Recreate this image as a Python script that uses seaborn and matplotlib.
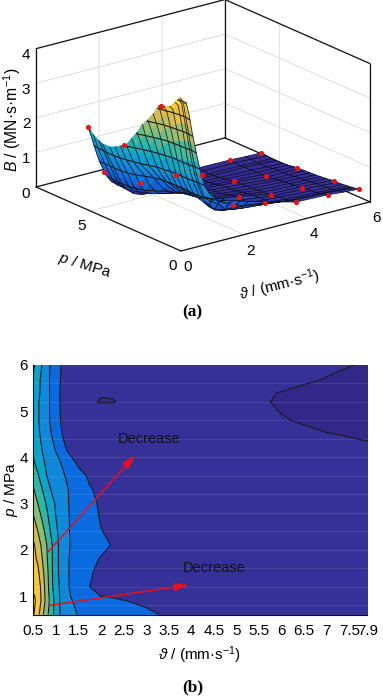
import numpy as np
import matplotlib
matplotlib.use("Agg")
import matplotlib.pyplot as plt
import seaborn as sns
from matplotlib.colors import Normalize
from mpl_toolkits.mplot3d import proj3d
from mpl_toolkits.mplot3d.art3d import Poly3DCollection

W, H = 383, 698

# velocity columns and pressure rows of the table
v_vals = [0.5, 0.6, 0.7, 0.8, 0.9, 1, 1.1, 1.25, 1.5, 1.75, 2, 2.25, 2.5, 3, 3.5, 4, 5, 5.5, 6, 7, 7.9]
p_vals = [0.6, 0.9, 1.0, 1.2, 1.5, 1.8, 2.1, 2.4, 2.7, 3, 3.3, 3.6, 3.9, 4.2, 4.5, 4.8, 5.2, 5.4, 5.7, 6]

# B, one row per pressure
B_vals = [
    [4.05, 3.67, 3.11, 2.64, 2.18, 1.79, 1.47, 1.23, .97, .91, .84, .77, .71, .57, .45, .33, .30, .26, .23, .15, .12],
    [4.1, 3.89, 3.33, 2.78, 2.25, 1.81, 1.45, 1.08, .91, .81, .7, .6, .51, .43, .37, .3, .26, .23, .2, .14, .1],
    [4.05, 3.87, 3.32, 2.76, 2.2, 1.78, 1.44, 1.06, .85, .72, .49, .44, .41, .37, .33, .29, .25, .22, .19, .14, .1],
    [3.9, 3.8, 3.28, 2.72, 2.12, 1.73, 1.42, 1.05, .76, .5, .42, .39, .37, .34, .3, .27, .23, .2, .18, .13, .1],
    [3.72, 3.62, 3.15, 2.65, 2.11, 1.67, 1.37, 1.04, .77, .52, .45, .42, .39, .34, .3, .26, .21, .18, .16, .11, .09],
    [3.65, 3.42, 3.0, 2.55, 2.09, 1.67, 1.37, 1.04, .81, .6, .47, .43, .4, .35, .3, .24, .2, .17, .15, .1, .08],
    [3.6, 3.25, 2.88, 2.5, 2.08, 1.67, 1.37, 1.04, .88, .74, .61, .48, .44, .38, .3, .21, .18, .16, .14, .09, .07],
    [3.3, 3.0, 2.67, 2.29, 1.91, 1.59, 1.35, 1.04, .84, .68, .51, .44, .4, .33, .27, .2, .16, .14, .12, .08, .06],
    [3.05, 2.75, 2.43, 2.1, 1.79, 1.5, 1.31, 1.04, .83, .63, .47, .41, .36, .29, .24, .18, .14, .12, .1, .07, .05],
    [2.85, 2.5, 2.22, 1.94, 1.67, 1.44, 1.27, 1.03, .8, .59, .45, .38, .33, .26, .21, .17, .12, .1, .09, .06, .05],
    [2.55, 2.28, 2.0, 1.72, 1.47, 1.35, 1.22, 1.03, .74, .53, .42, .35, .3, .24, .19, .16, .1, .09, .08, .05, .04],
    [2.3, 2.05, 1.78, 1.5, 1.37, 1.25, 1.13, .94, .63, .44, .37, .32, .28, .22, .18, .15, .07, .07, .07, .04, .03],
    [2.05, 1.83, 1.58, 1.41, 1.27, 1.14, 1.0, .7, .42, .34, .3, .27, .24, .2, .17, .15, .06, .06, .06, .03, .02],
    [1.95, 1.7, 1.47, 1.3, 1.13, .95, .73, .45, .33, .28, .24, .21, .19, .16, .13, .11, .05, .05, .05, .02, .01],
    [1.85, 1.6, 1.38, 1.19, 1.0, .77, .55, .36, .28, .24, .2, .17, .15, .13, .11, .09, .05, .04, .02, .003, -.01],
    [1.78, 1.55, 1.33, 1.13, .92, .71, .5, .33, .25, .2, .17, .14, .12, .1, .09, .07, .04, .02, .005, -.02, -.03],
    [1.78, 1.55, 1.33, 1.13, .91, .7, .48, .3, .1, .02, -.01, -.005, .01, .03, .03, .03, .03, .01, -.01, -.03, -.03],
    [1.83, 1.6, 1.38, 1.14, .91, .7, .48, .3, .12, .03, .01, .01, .02, .03, .03, .03, .03, .008, -.002, -.025, -.03],
    [1.92, 1.64, 1.38, 1.14, .9, .71, .5, .3, .16, .1, .08, .07, .07, .06, .06, .05, .05, .03, .02, -.002, -.02],
    [2.09, 1.8, 1.47, 1.18, .92, .72, .52, .32, .2, .14, .12, .1, .09, .08, .07, .07, .06, .04, .03, .01, -.005],
]

# measured points on the surface
dot_v = [0.5, 0.5, 0.5, 1, 1, 1, 1, 2, 3, 3, 4, 4, 4, 5, 5, 5, 5, 6, 6, 6, 6]
dot_p = [6, 4, 2, 6, 4, 2, 0.6, 0.6, 0.6, 2, 0.6, 2, 4, 0.6, 2, 4, 6, 0.6, 2, 4, 6]
dot_b = [2.09, 2.03, 3.6, .66, .8, 1.5, 1.83, .72, .54, .39, .33, .21, .15, .3, .18, .05, .06, .23, .14, .06, .03]

contour_levels = [0, 0.5, 1, 1.5, 2, 2.5, 3, 3.5, 4]
fill_levels = [-0.5] + contour_levels + [4.5]
band_colors = ['#33288a', '#363199', '#0a6be0', '#1088da', '#0aa3cb',
               '#2eb7a4', '#87bf77', '#d1bb59', '#fbc63a', '#f9e61a']

xticks_b = [0.5, 1, 1.5, 2, 2.5, 3, 3.5, 4, 4.5, 5, 5.5, 6, 6.5, 7, 7.5, 7.9]
xlabels_b = ['0.5', '1', '1.5', '2', '2.5', '3', '3.5', '4', '4.5', '5', '5.5', '6', '6.5', '7', '7.5', '7.9']
yticks_b = [1, 2, 3, 4, 5, 6]
mesh_rows = [0.8, 1.2, 1.6, 2, 2.4, 2.8, 3.2, 3.6, 4, 4.4, 4.8, 5.2, 5.6]

sns.set_theme(style="white")
plt.rcParams['font.family'] = ['Liberation Sans', 'DejaVu Sans']
plt.rcParams['mathtext.fontset'] = 'custom'
plt.rcParams['mathtext.rm'] = 'Liberation Sans'
plt.rcParams['mathtext.it'] = 'Liberation Sans:italic'
plt.rcParams['text.color'] = 'black'
plt.rcParams['xtick.color'] = 'black'
plt.rcParams['ytick.color'] = 'black'
FS = 11

V, P = np.meshgrid(v_vals, p_vals)
B = np.array(B_vals)
cmap = sns.blend_palette(band_colors, as_cmap=True)
norm = Normalize(-0.25, 4.25)

fig = plt.figure(figsize=(W / 100, H / 100), dpi=100)


def put_text(x, y, s, **kw):
    fig.text(x / W, 1 - y / H, s, ha='center', va='center', **kw)


# (a) surface
ax = fig.add_axes([0, 0.5, 1, W / H], projection='3d', proj_type='ortho', computed_zorder=False)
ax.view_init(elev=19.8, azim=-127.5)
xmax, ymax, zmax = 6, 8.0, 4
ax.set_xlim(0, xmax, view_margin=0)
ax.set_ylim(0, ymax, view_margin=0)
ax.set_zlim(0, zmax, view_margin=0)
ax.set_box_aspect((1, 1, 0.617))
ax.patch.set_alpha(0)

for axis in (ax.xaxis, ax.yaxis, ax.zaxis):
    axis.set_pane_color((1, 1, 1, 1))
    axis.pane.set_edgecolor('none')
    axis.line.set_linewidth(0)
    axis._axinfo['grid'].update(color='#d9d9d9', linewidth=0.6)
    axis._axinfo['tick'].update(inward_factor=0.0, outward_factor=0.0)
ax.grid(True)
ax.set_xticks([0, 2, 4, 6])
ax.set_yticks([0, 5])
ax.set_zticks([0, 1, 2, 3, 4])
ax.tick_params(axis='both', labelsize=FS, pad=-2)
ax.tick_params(axis='z', pad=-4)

# box outline
edges = [((0, xmax), (0, 0), (0, 0)), ((0, 0), (0, ymax), (0, 0)),
         ((xmax, xmax), (0, ymax), (0, 0)), ((0, xmax), (ymax, ymax), (0, 0)),
         ((0, 0), (ymax, ymax), (0, zmax)), ((xmax, xmax), (0, 0), (0, zmax)),
         ((xmax, xmax), (ymax, ymax), (0, zmax)),
         ((0, xmax), (ymax, ymax), (zmax, zmax)), ((xmax, xmax), (0, ymax), (zmax, zmax))]
for ex, ey, ez in edges:
    ax.plot(ex, ey, ez, color='#111111', lw=0.9, zorder=1)

n = v_vals.index(6) + 1
Vs, Ps, Bs = V[:, :n], P[:, :n], B[:, :n]

# flat part keeps dark cell outlines, the steep wall only gets its stripes further down
verts, faces, outlines = [], [], []
for i in range(Bs.shape[0] - 1):
    for j in range(Bs.shape[1] - 1):
        verts.append([(Vs[i, j], Ps[i, j], Bs[i, j]), (Vs[i, j + 1], Ps[i, j + 1], Bs[i, j + 1]),
                      (Vs[i + 1, j + 1], Ps[i + 1, j + 1], Bs[i + 1, j + 1]), (Vs[i + 1, j], Ps[i + 1, j], Bs[i + 1, j])])
        c = cmap(norm(Bs[i:i + 2, j:j + 2].mean()))
        faces.append(c)
        outlines.append((0.03, 0.03, 0.12, 1) if Vs[i, j] >= 1.5 else c)
mesh = Poly3DCollection(verts, facecolors=faces, edgecolors=outlines, linewidths=0.45, zorder=2)
ax.add_collection3d(mesh, autolim=False)

m = v_vals.index(1.5) + 1
for i in range(Bs.shape[0]):
    ax.plot(Vs[i, :m], Ps[i, :m], Bs[i, :m], color='#0a0a1e', lw=0.6, alpha=0.85, zorder=2.5)

ax.contour(Vs, Ps, Bs, levels=contour_levels[1:], colors='k', linewidths=0.8, zorder=3)
ax.scatter(dot_v, dot_p, dot_b, color='#ee1111', s=14, depthshade=False, zorder=4, linewidths=0)

# fit the box on the figure: left corner x=36, right corner x=370, front corner y=251 px
ax.apply_aspect()
M = ax.get_proj()
cx, cy, _ = proj3d.proj_transform(np.array([0, 0, xmax]), np.array([0, ymax, 0]), np.zeros(3), M)
u = ax.transAxes.inverted().transform(ax.transData.transform(np.c_[cx, cy]))
S = (370 - 36) / (u[2, 0] - u[1, 0])
ax.set_position([(36 - u[1, 0] * S) / W, ((H - 251) - u[0, 1] * S) / H, S / W, S / H])

put_text(12, 120, r'$B$ / (MN·s·m$^{-1}$)', fontsize=11.3, rotation=90)
put_text(85, 265, r'$p$ / MPa', fontsize=FS, rotation=-17)
put_text(280, 285, r'$\vartheta$ / (mm·s$^{-1}$)', fontsize=FS, rotation=14)
put_text(192, 312, '(a)', fontsize=12.5, fontweight='bold', family='Liberation Serif')

# (b) contour map
ax2 = fig.add_axes([33.3 / W, 1 - 614.5 / H, 334.2 / W, 249.5 / H])
ax2.contourf(V, P, B, levels=fill_levels, colors=band_colors)
ax2.hlines(mesh_rows, 0.5, 7.9, color='white', alpha=0.1, lw=0.7)
ax2.contour(V, P, B, levels=contour_levels, colors='k', linewidths=0.8)
ax2.set_xlim(0.5, 7.9)
ax2.set_ylim(0.6, 6)
ax2.set_xticks(xticks_b)
ax2.set_xticklabels(xlabels_b)
ax2.set_yticks(yticks_b)
ax2.tick_params(direction='in', length=3, width=0.6, labelsize=FS, pad=7, bottom=True, left=True)
ax2.tick_params(axis='y', pad=4)
sns.despine(ax=ax2)
for s in ('left', 'bottom'):
    ax2.spines[s].set_linewidth(0.8)
    ax2.spines[s].set_color('#111111')

for start, end in [((0.81, 1.94), (2.76, 4.05)), ((0.83, 0.79), (3.94, 1.24))]:
    ax2.annotate('', xy=end, xytext=start,
                 arrowprops=dict(arrowstyle='-|>,head_length=0.7,head_width=0.2', color='#e8101c', lw=1.1,
                                 shrinkA=0, shrinkB=0))
ax2.text(2.37, 4.39, 'Decrease', fontsize=10.5, va='center', color='#111111')
ax2.text(3.8, 1.6, 'Decrease', fontsize=10.5, va='center', color='#111111')

put_text(200, 655, r'$\vartheta$ / (mm·s$^{-1}$)', fontsize=FS)
put_text(11, 490, r'$p$ / MPa', fontsize=FS, rotation=90)
put_text(193, 687, '(b)', fontsize=12.5, fontweight='bold', family='Liberation Serif')

fig.savefig('out.png', dpi=100)
